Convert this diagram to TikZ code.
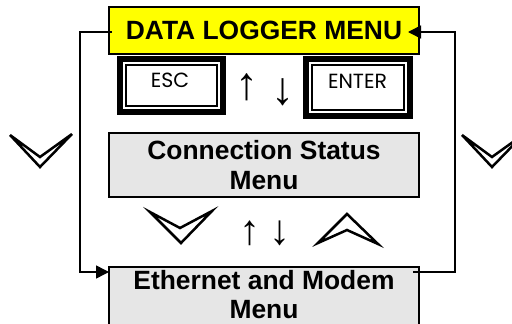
\documentclass[tikz,border=0pt]{standalone}
\usepackage{fontspec}
\setmainfont{Liberation Sans}
\newfontfamily\keyfont{Poppins}
\usetikzlibrary{arrows.meta}
\definecolor{menuyellow}{RGB}{255,255,0}
\definecolor{menugray}{RGB}{230,230,230}
\begin{document}
\begin{tikzpicture}[x=1pt,y=-1pt,
  menubox/.style={draw=black, line width=2pt, fill=menugray, minimum width=310pt,
    inner sep=0pt, align=center, font=\bfseries\fontsize{26.4}{30}\selectfont},
  keyouter/.style={fill=black, inner sep=0pt},
  keylabel/.style={inner sep=0pt, font=\keyfont\fontsize{20.5}{20.5}\selectfont},
  navarrow/.style={inner sep=0pt, font=\fontsize{46}{46}\selectfont},
  chevron/.style={draw=black, line width=2.5pt, line join=miter},
  conn/.style={draw=black, line width=1.5pt},
  conntip/.style={-{Triangle[length=13pt,width=13pt]}}]
\useasboundingbox (0,0) rectangle (512,324);

% menu boxes
\node[menubox, fill=menuyellow, minimum height=47pt] (logger) at (264,30.5)
  {DATA LOGGER MENU};
\node[menubox, minimum height=64pt] (status) at (264,165)
  {Connection Status\\Menu};
\node[menubox, anchor=north, font=\bfseries\fontsize{26.4}{29}\selectfont] (eth) at (264,266)
  {\rule{0pt}{22.5pt}Ethernet and Modem\\Menu\rule[-20pt]{0pt}{20pt}};

% ESC and ENTER keys
\node[keyouter, minimum width=109.3pt, minimum height=59pt] (esc) at (171.3,85.5) {};
\fill[white] ([shift={(6.5,6.5)}]esc.north west) rectangle ([shift={(-6.5,-6.5)}]esc.south east);
\draw[line width=2pt] ([shift={(9.5,9.5)}]esc.north west) rectangle ([shift={(-9.5,-9.5)}]esc.south east);
\node[keylabel] (esclabel) at (170,80) {ESC};

\node[keyouter, minimum width=110pt, minimum height=63pt] (enter) at (358,87.5) {};
\fill[white] ([shift={(6.5,6.5)}]enter.north west) rectangle ([shift={(-6.5,-6.5)}]enter.south east);
\draw[line width=2pt] ([shift={(9.5,9.5)}]enter.north west) rectangle ([shift={(-9.5,-9.5)}]enter.south east);
\node[keylabel] (enterlabel) at (357.5,81.5) {ENTER};

% up / down arrows
\node[navarrow] (upA) at (247,87.5) {↑};
\node[navarrow] (downA) at (283,92.5) {↓};
\node[navarrow, font=\fontsize{42}{42}\selectfont] (upB) at (250,233.5) {↑};
\node[navarrow, font=\fontsize{42}{42}\selectfont] (downB) at (280,233.5) {↓};

% chevrons
\draw[chevron] (10,135) -- (40,157) -- (72,134) -- (40,167) -- cycle;
\draw[chevron] (462,135) -- (492,157) -- (524,134) -- (492,167) -- cycle;
\draw[chevron] (150,212) -- (180,228) -- (212,211) -- (181,243) -- cycle;
\draw[chevron] (318,243) -- (347,230) -- (378,244) -- (347,214) -- cycle;

% rails
\coordinate (leftrail) at (80,32);
\coordinate (rightrail) at (455,32);
\coordinate (ethin) at ([shift={(1,6)}]eth.north west);
\coordinate (ethout) at ([shift={(-7,6)}]eth.north east);
\draw[conn, conntip] ([shift={(4,1.5)}]logger.west) -- (leftrail)
  -- (leftrail |- ethin) -- (ethin);
\draw[conn, conntip] (ethout) -- (rightrail |- ethout)
  -- (rightrail) -- ([shift={(-12,1.5)}]logger.east);
\end{tikzpicture}
\end{document}
